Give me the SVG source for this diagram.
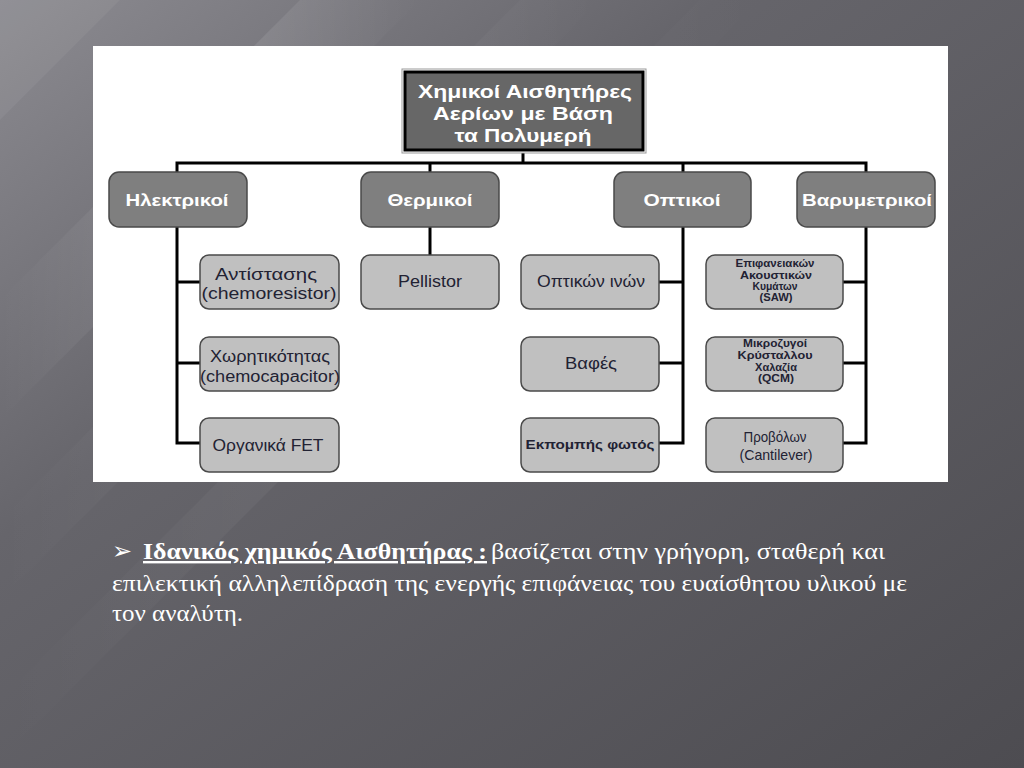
<svg xmlns="http://www.w3.org/2000/svg" width="1024" height="768" viewBox="0 0 1024 768">
<defs>
<linearGradient id="bg" x1="0" y1="0" x2="1" y2="1">
<stop offset="0" stop-color="#8c8b91"/>
<stop offset="0.35" stop-color="#66656b"/>
<stop offset="1" stop-color="#4d4c51"/>
</linearGradient>
<linearGradient id="streak" x1="0" y1="0" x2="1" y2="0">
<stop offset="0" stop-color="#ffffff" stop-opacity="0"/>
<stop offset="0.5" stop-color="#ffffff" stop-opacity="0.12"/>
<stop offset="1" stop-color="#ffffff" stop-opacity="0"/>
</linearGradient>
</defs>
<style>
.l1 { fill: #7f7f7f; stroke: #4a4a4a; stroke-width: 1.5; }
.l2 { fill: #c0c0c0; stroke: #4a4a4a; stroke-width: 1.5; }
.wt { font-family: "Liberation Sans", Arial, sans-serif; font-weight: bold; fill: #ffffff; text-anchor: middle; }
.dt { font-family: "Liberation Sans", Arial, sans-serif; fill: #222233; text-anchor: middle; }
.bt { font-family: "Liberation Sans", Arial, sans-serif; font-weight: bold; fill: #222233; text-anchor: middle; }
.conn { stroke: #000000; stroke-width: 3; fill: none; }
.body { font-family: "Liberation Serif", "Times New Roman", serif; font-size: 24px; fill: #ffffff; }
</style>
<rect x="0" y="0" width="1024" height="768" fill="url(#bg)"/>
<polygon points="0,300 300,0 420,0 0,420" fill="url(#streak)"/>
<polygon points="0,520 520,0 600,0 0,600" fill="url(#streak)" opacity="0.6"/>
<polygon points="0,700 700,0 760,0 0,760" fill="url(#streak)" opacity="0.5"/>
<polygon points="0,0 120,0 0,120" fill="#ffffff" opacity="0.05"/>

<rect x="93" y="46" width="855" height="436" fill="#ffffff"/>

<g id="connectors">
<polyline class="conn" points="523,152 523,163"/>
<polyline class="conn" points="177,172 177,163 866,163 866,172"/>
<polyline class="conn" points="430,163 430,172"/>
<polyline class="conn" points="683,163 683,172"/>
<polyline class="conn" points="177,227 177,443 200,443"/>
<polyline class="conn" points="177,282 200,282"/>
<polyline class="conn" points="177,363 200,363"/>
<polyline class="conn" points="430,227 430,255"/>
<polyline class="conn" points="683,227 683,443 659,443"/>
<polyline class="conn" points="683,282 659,282"/>
<polyline class="conn" points="683,363 659,363"/>
<polyline class="conn" points="866,227 866,443 843,443"/>
<polyline class="conn" points="866,282 843,282"/>
<polyline class="conn" points="866,363 843,363"/>
</g>

<g id="root">
<rect x="402" y="69" width="244" height="84" fill="#ffffff" stroke="#999999" stroke-width="1"/>
<rect x="405" y="72" width="238" height="78" fill="#676767" stroke="#000000" stroke-width="3"/>
<text class="wt" font-size="18" x="525" y="98" textLength="214" lengthAdjust="spacingAndGlyphs">Χημικοί Αισθητήρες</text>
<text class="wt" font-size="18" x="523" y="120" textLength="180" lengthAdjust="spacingAndGlyphs">Αερίων με Βάση</text>
<text class="wt" font-size="18" x="523" y="142" textLength="137" lengthAdjust="spacingAndGlyphs">τα Πολυμερή</text>
</g>

<g id="electrical">
<rect class="l1" x="109" y="172" width="138" height="55" rx="10"/>
<text class="wt" font-size="16" x="177" y="206" textLength="103" lengthAdjust="spacingAndGlyphs">Ηλεκτρικοί</text>
</g>
<g id="thermal">
<rect class="l1" x="361" y="172" width="138" height="55" rx="10"/>
<text class="wt" font-size="16" x="430" y="206" textLength="85" lengthAdjust="spacingAndGlyphs">Θερμικοί</text>
</g>
<g id="optical">
<rect class="l1" x="614" y="172" width="137" height="55" rx="10"/>
<text class="wt" font-size="16" x="682" y="206" textLength="77" lengthAdjust="spacingAndGlyphs">Οπτικοί</text>
</g>
<g id="gravimetric">
<rect class="l1" x="797" y="172" width="138" height="55" rx="10"/>
<text class="wt" font-size="16" x="867" y="206" textLength="130" lengthAdjust="spacingAndGlyphs">Βαρυμετρικοί</text>
</g>

<g id="resistor">
<rect class="l2" x="200" y="255" width="139" height="54" rx="9"/>
<text class="dt" font-size="16" x="266" y="280" textLength="102" lengthAdjust="spacingAndGlyphs">Αντίστασης</text>
<text class="dt" font-size="16" x="269" y="299" textLength="135" lengthAdjust="spacingAndGlyphs">(chemoresistor)</text>
</g>
<g id="capacitor">
<rect class="l2" x="200" y="337" width="139" height="54" rx="9"/>
<text class="dt" font-size="16" x="270" y="362" textLength="120" lengthAdjust="spacingAndGlyphs">Χωρητικότητας</text>
<text class="dt" font-size="16" x="270" y="382" textLength="140" lengthAdjust="spacingAndGlyphs">(chemocapacitor)</text>
</g>
<g id="fet">
<rect class="l2" x="200" y="418" width="139" height="54" rx="9"/>
<text class="dt" font-size="16" x="268" y="451" textLength="111" lengthAdjust="spacingAndGlyphs">Οργανικά FET</text>
</g>

<g id="pellistor">
<rect class="l2" x="361" y="255" width="138" height="54" rx="9"/>
<text class="dt" font-size="16" x="430" y="287" textLength="64" lengthAdjust="spacingAndGlyphs">Pellistor</text>
</g>

<g id="fibers">
<rect class="l2" x="521" y="255" width="138" height="54" rx="9"/>
<text class="dt" font-size="16" x="591" y="287" textLength="108" lengthAdjust="spacingAndGlyphs">Οπτικών ινών</text>
</g>
<g id="dyes">
<rect class="l2" x="521" y="337" width="138" height="54" rx="9"/>
<text class="dt" font-size="16" x="591" y="369" textLength="52" lengthAdjust="spacingAndGlyphs">Βαφές</text>
</g>
<g id="emission">
<rect class="l2" x="521" y="418" width="138" height="54" rx="9"/>
<text class="bt" font-size="13" x="590" y="449" textLength="129" lengthAdjust="spacingAndGlyphs">Εκπομπής φωτός</text>
</g>

<g id="saw">
<rect class="l2" x="706" y="255" width="137" height="54" rx="9"/>
<text class="bt" font-size="10.5" x="775" y="267" textLength="79" lengthAdjust="spacingAndGlyphs">Επιφανειακών</text>
<text class="bt" font-size="10.5" x="776" y="279" textLength="72" lengthAdjust="spacingAndGlyphs">Ακουστικών</text>
<text class="bt" font-size="10.5" x="775" y="290" textLength="45" lengthAdjust="spacingAndGlyphs">Κυμάτων</text>
<text class="bt" font-size="10.5" x="776" y="301" textLength="33" lengthAdjust="spacingAndGlyphs">(SAW)</text>
</g>
<g id="qcm">
<rect class="l2" x="706" y="337" width="137" height="54" rx="9"/>
<text class="bt" font-size="10.5" x="775" y="347" textLength="64" lengthAdjust="spacingAndGlyphs">Μικροζυγοί</text>
<text class="bt" font-size="10.5" x="775" y="359" textLength="75" lengthAdjust="spacingAndGlyphs">Κρύσταλλου</text>
<text class="bt" font-size="10.5" x="776" y="371" textLength="42" lengthAdjust="spacingAndGlyphs">Χαλαζία</text>
<text class="bt" font-size="10.5" x="776" y="382" textLength="36" lengthAdjust="spacingAndGlyphs">(QCM)</text>
</g>
<g id="cantilever">
<rect class="l2" x="706" y="418" width="137" height="54" rx="9"/>
<text class="dt" font-size="15" x="775" y="442" textLength="63" lengthAdjust="spacingAndGlyphs">Προβόλων</text>
<text class="dt" font-size="15" x="776" y="460" textLength="73" lengthAdjust="spacingAndGlyphs">(Cantilever)</text>
</g>

<g id="caption">
<text class="body" x="112" y="559" font-size="20">➢</text>
<text class="body" x="143" y="559" font-weight="bold" text-decoration="underline" textLength="344" lengthAdjust="spacingAndGlyphs">Ιδανικός χημικός Αισθητήρας :</text>
<text class="body" x="491" y="559" textLength="394" lengthAdjust="spacingAndGlyphs">βασίζεται  στην γρήγορη, σταθερή και</text>
<text class="body" x="112" y="591" textLength="795" lengthAdjust="spacingAndGlyphs">επιλεκτική αλληλεπίδραση της ενεργής επιφάνειας του ευαίσθητου υλικού με</text>
<text class="body" x="112" y="621" textLength="131" lengthAdjust="spacingAndGlyphs">τον αναλύτη.</text>
</g>
</svg>
